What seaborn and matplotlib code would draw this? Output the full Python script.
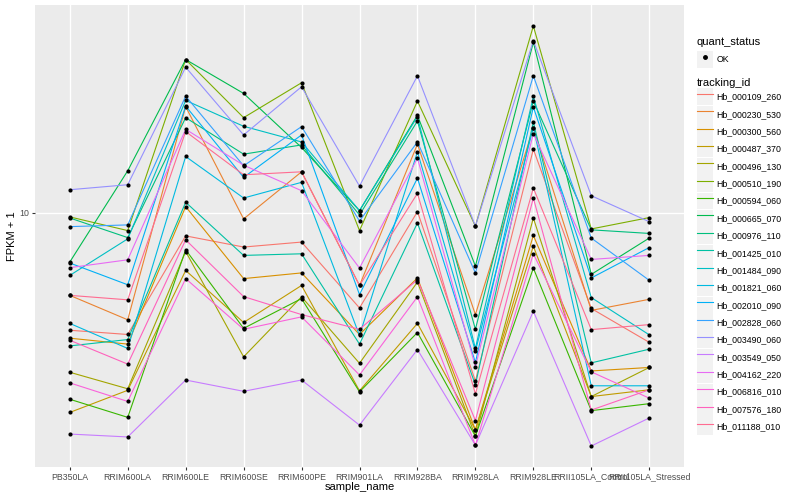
import numpy as np
import pandas as pd
import matplotlib
matplotlib.use("Agg")
import matplotlib.pyplot as plt
import seaborn as sns
from matplotlib.lines import Line2D
from matplotlib.patches import Rectangle
from matplotlib.legend_handler import HandlerTuple
from matplotlib.ticker import NullLocator

# samples on the x axis
samples = ["PB350LA", "RRIM600LA", "RRIM600LE", "RRIM600SE", "RRIM600PE", "RRIM901LA",
           "RRIM928BA", "RRIM928LA", "RRIM928LE", "RRII105LA_Control", "RRII105LA_Stressed"]

# FPKM + 1 per gene, one value per sample
hb_000109_260 = [4.05, 3.92, 8.38, 7.69, 7.99, 4.81, 10.1, 2.74, 16.34, 4.79, 3.69]
hb_000230_530 = [5.3, 4.39, 22.68, 9.55, 13.73, 5.72, 16.98, 4.57, 19.3, 4.72, 5.14]
hb_000300_560 = [3.81, 3.64, 10.5, 6.03, 6.3, 3.92, 6.06, 1.88, 8.41, 2.96, 3.04]
hb_000487_370 = [2.15, 2.55, 6.42, 4.3, 5.72, 2.54, 4.27, 1.88, 7.74, 2.43, 2.56]
hb_000496_130 = [2.93, 2.58, 7.43, 3.3, 5.24, 3.14, 5.87, 1.79, 9.62, 2.43, 3.04]
hb_000510_190 = [9.7, 8.73, 32.61, 20.84, 27.27, 8.73, 23.68, 9.03, 42.23, 8.84, 9.65]
hb_000594_060 = [2.38, 2.07, 7.53, 4.11, 5.17, 2.52, 3.98, 1.79, 6.54, 2.18, 2.3]
hb_000665_070 = [6.85, 13.84, 32.61, 25.12, 16.56, 10.18, 21.22, 6.64, 37.24, 6.23, 8.24]
hb_000976_110 = [9.62, 8.27, 20.84, 15.73, 16.89, 9.85, 20.31, 4.08, 23.68, 8.78, 8.54]
hb_001425_010 = [3.59, 3.77, 10.86, 7.21, 7.3, 3.64, 9.26, 2.66, 20.15, 3.15, 3.5]
hb_001484_090 = [6.18, 8.19, 23.8, 19.5, 17.28, 10.18, 21.01, 3.52, 24.55, 5.21, 3.91]
hb_001821_060 = [4.27, 3.52, 15.45, 11.22, 12.66, 3.89, 16.01, 3.45, 19.3, 2.64, 2.64]
hb_002010_090 = [6.8, 5.75, 22.79, 13.15, 18.24, 5.33, 13.08, 3.16, 22.61, 6.06, 7.66]
hb_002828_060 = [9.0, 9.12, 24.6, 14.38, 19.45, 9.4, 17.28, 6.3, 28.77, 8.24, 5.95]
hb_003490_060 = [11.96, 12.43, 30.74, 18.24, 26.44, 12.3, 28.77, 9.03, 37.73, 11.42, 9.35]
hb_003549_050 = [1.82, 1.78, 2.76, 2.53, 2.76, 1.95, 3.49, 1.67, 4.69, 1.66, 2.06]
hb_004162_220 = [6.56, 6.97, 19.05, 14.45, 11.87, 6.54, 15.25, 3.06, 18.44, 6.99, 7.21]
hb_006816_010 = [2.7, 2.34, 6.03, 4.08, 4.49, 2.87, 5.24, 1.67, 7.3, 2.94, 2.4]
hb_007576_180 = [3.75, 3.12, 8.13, 5.25, 4.57, 4.08, 5.98, 2.02, 11.22, 2.19, 2.56]
hb_011188_010 = [5.3, 5.12, 18.72, 13.42, 13.73, 5.72, 11.63, 2.48, 12.12, 4.07, 4.23]

tracking_ids = ["Hb_000109_260", "Hb_000230_530", "Hb_000300_560", "Hb_000487_370",
                "Hb_000496_130", "Hb_000510_190", "Hb_000594_060", "Hb_000665_070",
                "Hb_000976_110", "Hb_001425_010", "Hb_001484_090", "Hb_001821_060",
                "Hb_002010_090", "Hb_002828_060", "Hb_003490_060", "Hb_003549_050",
                "Hb_004162_220", "Hb_006816_010", "Hb_007576_180", "Hb_011188_010"]
gene_values = [hb_000109_260, hb_000230_530, hb_000300_560, hb_000487_370, hb_000496_130,
               hb_000510_190, hb_000594_060, hb_000665_070, hb_000976_110, hb_001425_010,
               hb_001484_090, hb_001821_060, hb_002010_090, hb_002828_060, hb_003490_060,
               hb_003549_050, hb_004162_220, hb_006816_010, hb_007576_180, hb_011188_010]

# ggplot default hue palette for 20 levels
colors = ["#F8766D", "#EA8331", "#D89000", "#C09B00", "#A3A500", "#7CAE00", "#39B600",
          "#00BB4E", "#00BF7D", "#00C1A3", "#00BFC4", "#00BAE0", "#00B0F6", "#35A2FF",
          "#9590FF", "#C77CFF", "#E76BF3", "#FA62DB", "#FF62BC", "#FF6C91"]

rows = []
for tid, v in zip(tracking_ids, gene_values):
    for s, f in zip(samples, v):
        rows.append({"tracking_id": tid, "sample_name": s, "fpkm": f, "quant_status": "OK"})
df = pd.DataFrame(rows)

plt.rcParams["font.family"] = ["Liberation Sans", "DejaVu Sans"]
fig, ax = plt.subplots(figsize=(8, 5), dpi=100)
fig.subplots_adjust(left=35/800, right=684/800, top=1-5/500, bottom=1-467/500)
ax.set_facecolor("#EBEBEB")

sns.lineplot(data=df, x="sample_name", y="fpkm", hue="tracking_id", palette=colors,
             sort=False, linewidth=0.8, legend=False, ax=ax)
sns.scatterplot(data=df, x="sample_name", y="fpkm", color="black", s=9, linewidth=0,
                legend=False, ax=ax, zorder=3)

# log scale with 5% padding like ggplot
ax.set_yscale("log")
lo, hi = np.log10(df["fpkm"].min()), np.log10(df["fpkm"].max())
pad = (hi - lo) * 0.05
ax.set_ylim(10 ** (lo - pad), 10 ** (hi + pad))
ax.set_xlim(-0.6, len(samples) - 0.4)
ax.set_yticks([10])
ax.set_yticklabels(["10"])
ax.yaxis.set_minor_locator(NullLocator())
ax.grid(True, color="white", linewidth=1)
ax.set_axisbelow(True)
for sp in ax.spines.values():
    sp.set_visible(False)
ax.tick_params(axis="both", length=2, color="#333333", labelsize=6.3, labelcolor="#4D4D4D", pad=2)
ax.set_xlabel("sample_name", fontsize=8)
ax.set_ylabel("FPKM + 1", fontsize=8)
ax.xaxis.set_label_coords(0.5, -0.033)
ax.yaxis.set_label_coords(-0.027, 0.5)

# legends: quant_status (points) and tracking_id (lines)
key_bg = lambda: Rectangle((0, 0), 1, 1, facecolor="#F2F2F2", edgecolor="none")
h1 = [(key_bg(), Line2D([], [], marker="o", color="black", linestyle="", markersize=2.5))]
leg1 = fig.legend(h1, ["OK"], title="quant_status", loc="upper left",
                  bbox_to_anchor=(689/800, 1-29/500), frameon=False, fontsize=6.3,
                  title_fontsize=8, handlelength=1.83, handleheight=2.6, handletextpad=0.4,
                  alignment="left", handler_map={tuple: HandlerTuple(ndivide=1, pad=0)})
h2 = [(key_bg(), Line2D([], [], color=c, linewidth=0.8)) for c in colors]
leg2 = fig.legend(h2, tracking_ids, title="tracking_id", loc="upper left",
                  bbox_to_anchor=(689/800, 1-70/500), frameon=False, fontsize=6.3,
                  title_fontsize=8, handlelength=1.83, handleheight=2.6, handletextpad=0.4,
                  labelspacing=0.05, alignment="left",
                  handler_map={tuple: HandlerTuple(ndivide=1, pad=0)})

fig.savefig("out.png", dpi=100)
